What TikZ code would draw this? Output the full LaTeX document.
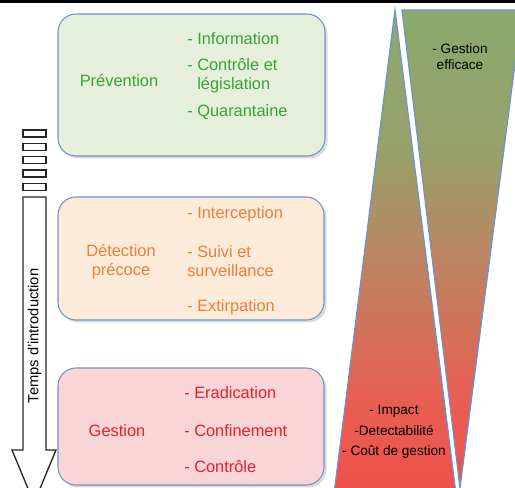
\documentclass[tikz,border=0pt]{standalone}
\usepackage{fontspec}
\setmainfont{Liberation Sans}
\usepackage{tikz}
\usetikzlibrary{positioning}
\definecolor{prevfill}{HTML}{E6EFDC}
\definecolor{prevtext}{HTML}{34A532}
\definecolor{detfill}{HTML}{FDEBD9}
\definecolor{dettext}{HTML}{E97F3A}
\definecolor{gesfill}{HTML}{FAD5D7}
\definecolor{gestext}{HTML}{E8202A}
\definecolor{boxline}{HTML}{6F96C9}
\definecolor{wedgeline}{HTML}{6E92CC}
\definecolor{shadered}{HTML}{F0504B}
\definecolor{shadeorange}{HTML}{E85E52}
\definecolor{shadebrown}{HTML}{B98762}
\definecolor{shadeolive}{HTML}{98A06A}
\definecolor{shadegreen}{HTML}{8AAA6E}
\pgfdeclareverticalshading{impactshade}{100bp}{color(0bp)=(shadered); color(25bp)=(shadered); color(34bp)=(shadeorange); color(50bp)=(shadebrown); color(60bp)=(shadeolive); color(75bp)=(shadegreen); color(100bp)=(shadegreen)}

\begin{document}
\begin{tikzpicture}[x=0.75pt,y=0.75pt,yscale=-1,xscale=1]
  \tikzstyle{box} = [draw=boxline, line width=0.8pt, rounded corners=13.5pt]
  \tikzstyle{boxshadow} = [fill=black, opacity=0.15, rounded corners=13.5pt]
  \tikzstyle{title} = [font=\fontsize{12.3}{14.4}\selectfont, align=center, inner sep=0pt]
  \tikzstyle{item} = [font=\fontsize{12.3}{14.4}\selectfont, align=left, anchor=west, inner sep=0pt]
  \tikzstyle{note} = [font=\fontsize{10.2}{12}\selectfont, align=center, inner sep=0pt]
  \tikzstyle{stripe} = [draw=black!85, line width=1pt, fill=white]
  \tikzstyle{wedge} = [draw=wedgeline, line width=0.9pt, shading=impactshade]
  \useasboundingbox (0,0) rectangle (515,488);
  \clip (0,0) rectangle (515,488);
  %Draw the top border
  \fill[black] (0,0) rectangle (515,3);
  %Draw the wedges
  \draw[wedge] (395,10) -- (455.5,490) -- (334.5,490) -- cycle;
  \draw[wedge] (402,10) -- (522,10) -- (460,488) -- cycle;
  \node (efficace) [note] at (460,57) {- Gestion\\efficace};
  \node (impact) [note] at (394,432) {- Impact\\[3.4pt]-Detectabilité\\[3.4pt]- Coût de gestion};
  %Draw the boxes
  \fill[boxshadow] (60.5,16.5) rectangle (327.5,158.5);
  \draw[box, fill=prevfill] (58,14) rectangle (325,156);
  \fill[boxshadow] (60.5,199.5) rectangle (326.5,322.5);
  \draw[box, fill=detfill] (58,197) rectangle (324,320);
  \fill[boxshadow] (60.5,370.5) rectangle (326.5,487.5);
  \draw[box, fill=gesfill] (58,368) rectangle (324,485);
  % Label the boxes
  \node (prevention) [title, text=prevtext] at (119,81) {Prévention};
  \node (info) [item, text=prevtext] at (187,39) {- Information};
  \node (legis) [item, text=prevtext] at (187,75.5) {- Contrôle et\\\hphantom{- }législation};
  \node (quarant) [item, text=prevtext] at (187,112) {- Quarantaine};

  \node (detection) [title, text=dettext] at (121,261.5) {Détection\\précoce};
  \node (intercep) [item, text=dettext] at (187,214) {- Interception};
  \node (suivi) [item, text=dettext] at (187,261.5) {- Suivi et\\surveillance};
  \node (extirp) [item, text=dettext] at (187,307) {- Extirpation};

  \node (gestion) [title, text=gestext] at (117,431) {Gestion};
  \node (eradic) [item, text=gestext] at (184,393) {- Eradication};
  \node (confin) [item, text=gestext] at (184,431) {- Confinement};
  \node (control) [item, text=gestext] at (184,467) {- Contrôle};
  %Draw the striped arrow
  \foreach \y in {130,143.3,156.6,170,183.3}
    \draw[stripe] (23,\y) rectangle (46,\y+7);
  \draw[stripe, line join=miter] (23,197) -- (46,197) -- (46,450) -- (56,450) -- (34,503) -- (12,450) -- (23,450) -- cycle;
  \node (temps) [rotate=90, font=\fontsize{11}{13}\selectfont] at (34.5,336) {Temps d'introduction};
\end{tikzpicture}
\end{document}
